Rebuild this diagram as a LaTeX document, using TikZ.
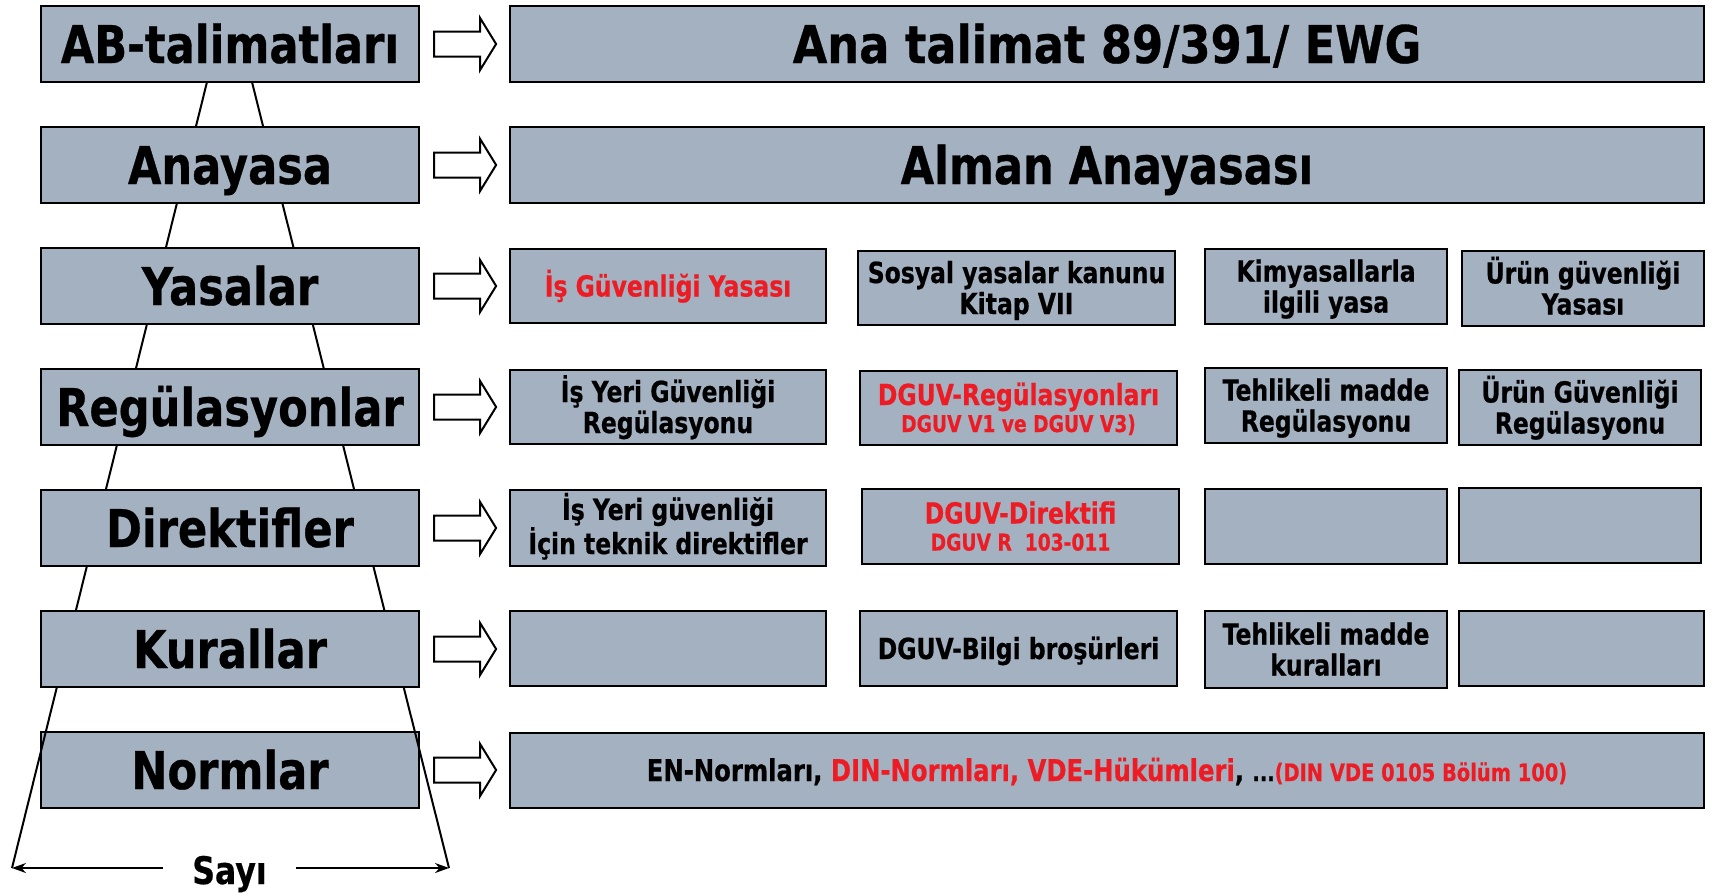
\documentclass[tikz,border=0pt]{standalone}
\usepackage{fontspec}
\setmainfont{DejaVu Sans}[FakeStretch=0.81, BoldFeatures={FakeBold=0.6}]
\newfontfamily\bigfam{DejaVu Sans}[FakeStretch=0.83, BoldFeatures={FakeBold=0.6}]
\newfontfamily\bigfamB{DejaVu Sans}[FakeStretch=0.86, BoldFeatures={FakeBold=0.6}]
\usetikzlibrary{arrows.meta}
\definecolor{boxfill}{RGB}{163,177,192}
\definecolor{txtred}{RGB}{237,28,36}
\newcommand{\bigf}{\fontsize{52}{56}\selectfont}
\newcommand{\smf}{\fontsize{29}{31}\selectfont}
\newcommand{\tinyf}{\fontsize{23}{25}\selectfont}
\begin{document}
\begin{tikzpicture}[x=1pt,y=-1pt,
  box/.style={draw=black, line width=2.2pt, fill=boxfill, inner sep=0pt, align=center, font=\bfseries\smf},
  one/.style={text height=21pt, text depth=0pt},
  two/.style={text height=52pt, text depth=0pt},
  lbox/.style={box, minimum width=378pt, minimum height=76pt, font=\bigfam\bfseries\bigf, text height=38pt, text depth=0pt},
  wbox/.style={box, minimum width=1194pt, minimum height=76pt},
  blockarr/.style={draw=black, line width=2pt, fill=white, line join=miter},
  slant/.style={draw=black, line width=2pt},
  dimarr/.style={draw=black, line width=2pt, -{Stealth[length=14pt,width=10pt]}}
]
\useasboundingbox (0,0) rectangle (1712,892);

% bottom left box first (slant lines cross over it)
\node[lbox] (L7) at (230,770) {Normlar};

\coordinate (apexL) at (207,82);
\coordinate (apexR) at (252,82);
\coordinate (baseL) at (12,868);
\coordinate (baseR) at (449,868);
\draw[slant] (apexL) -- (baseL);
\draw[slant] (apexR) -- (baseR);

\node[lbox] (L1) at (230,44)  {AB-talimatları};
\node[lbox] (L2) at (230,165) {Anayasa};
\node[lbox] (L3) at (230,286) {Yasalar};
\node[lbox] (L4) at (230,407) {Regülasyonlar};
\node[lbox] (L5) at (230,528) {Direktifler};
\node[lbox] (L6) at (230,649) {Kurallar};

% Sayi dimension
\node[font=\bigfam\bfseries, text height=28pt, text depth=0pt, inner ysep=0pt, inner xsep=29pt] (sayi) at (229.5,870) {\fontsize{38}{40}\selectfont Sayı};
\draw[dimarr] (sayi.west |- baseL) -- (baseL);
\draw[dimarr] (sayi.east |- baseR) -- (baseR);

% block arrows
\foreach \i in {1,...,7}{
  \draw[blockarr] ([xshift=14pt]L\i.east) ++(0,12.5) -- ++(46,0) -- ++(0,13.5) -- ++(16,-26) -- ++(-16,-26) -- ++(0,13.5) -- ++(-46,0) -- cycle;
}

% right column
\node[wbox, font=\bigfamB\bfseries\bigf, text height=38pt, text depth=0pt] (R1) at (1107,44) {Ana talimat 89/391/ EWG};
\node[wbox, font=\bigfam\bfseries\bigf, text height=38pt, text depth=0pt] (R2) at (1107,165) {Alman Anayasası};

% row 3
\node[box, one, minimum width=316pt, minimum height=74pt, text=txtred] (R31) at (668,286) {İş Güvenliği Yasası};
\node[box, two, minimum width=317pt, minimum height=74pt] (R32) at (1016.5,288) {Sosyal yasalar kanunu\\Kitap VII};
\node[box, two, minimum width=242pt, minimum height=75pt] (R33) at (1326,286.5) {Kimyasallarla\\ilgili yasa};
\node[box, two, minimum width=242pt, minimum height=75pt] (R34) at (1583,288.5) {Ürün güvenliği\\Yasası};

% row 4
\node[box, two, minimum width=316pt, minimum height=74pt] (R41) at (668,407) {İş Yeri Güvenliği\\Regülasyonu};
\node[box, minimum width=317pt, minimum height=74pt, text=txtred, text height=48pt, text depth=0pt] (R42) at (1018.5,408) {DGUV-Regülasyonları\\[-4pt]{\tinyf DGUV V1 ve DGUV V3)}};
\node[box, two, minimum width=242pt, minimum height=75pt] (R43) at (1326,405.5) {Tehlikeli madde\\Regülasyonu};
\node[box, two, minimum width=242pt, minimum height=75pt] (R44) at (1580,407.5) {Ürün Güvenliği\\Regülasyonu};

% row 5
\node[box, two, minimum width=316pt, minimum height=76pt] (R51) at (668,528) {İş Yeri güvenliği\\İçin teknik direktifler};
\node[box, minimum width=317pt, minimum height=75pt, text=txtred, text height=48pt, text depth=0pt] (R52) at (1020.5,526.5) {DGUV-Direktifi\\[-4pt]{\tinyf DGUV R\ \ 103-011}};
\node[box, minimum width=242pt, minimum height=75pt] (R53) at (1326,526.5) {};
\node[box, minimum width=242pt, minimum height=75pt] (R54) at (1580,525.5) {};

% row 6
\node[box, minimum width=316pt, minimum height=75pt] (R61) at (668,648.5) {};
\node[box, one, minimum width=317pt, minimum height=75pt] (R62) at (1018.5,648.5) {DGUV-Bilgi broşürleri};
\node[box, two, minimum width=242pt, minimum height=77pt] (R63) at (1326,649.5) {Tehlikeli madde\\kuralları};
\node[box, minimum width=245pt, minimum height=75pt] (R64) at (1581.5,648.5) {};

% row 7
\node[wbox, one, minimum height=75pt, font=\bfseries\fontsize{30}{32}\selectfont] (R7) at (1107,770.5) {EN-Normları, {\color{txtred}DIN-Normları, VDE-Hükümleri}, {\fontsize{24}{26}\selectfont ...\color{txtred}(DIN VDE 0105 Bölüm 100)}};
\end{tikzpicture}
\end{document}
